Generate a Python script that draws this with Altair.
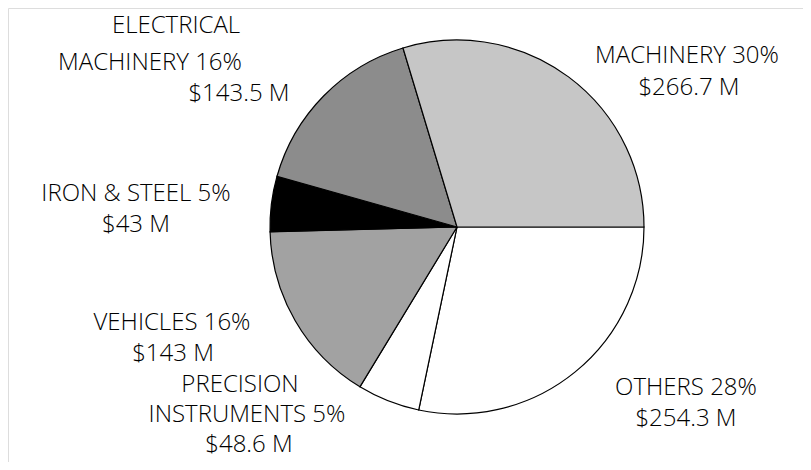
import altair as alt
import pandas as pd
import math

# Data (clockwise from 3 o'clock)
categories = ["OTHERS", "PRECISION INSTRUMENTS", "VEHICLES", "IRON & STEEL",
              "ELECTRICAL MACHINERY", "MACHINERY"]
values = [254.3, 48.6, 143.0, 43.0, 143.5, 266.7]
percents = [28, 5, 16, 5, 16, 30]
fills = ["#ffffff", "#ffffff", "#a2a2a2", "#000000", "#8c8c8c", "#c6c6c6"]

# Label lines per category
label_lines = [
    ["OTHERS 28%", "$254.3 M"],
    ["PRECISION", "INSTRUMENTS 5%", "$48.6 M"],
    ["VEHICLES 16%", "$143 M"],
    ["IRON & STEEL 5%", "$43 M"],
    ["ELECTRICAL", "MACHINERY 16%", "$143.5 M"],
    ["MACHINERY 30%", "$266.7 M"],
]

# Layout (chart pixel positions of each label line: centre x, baseline y)
label_pos = [
    [(678, 387), (678, 418)],
    [(232, 384), (239, 414), (241, 444)],
    [(164, 322), (165, 353)],
    [(128, 193), (128, 224)],
    [(168, 25), (142, 62), (231, 93)],
    [(679, 55), (681, 87)],
]
CX, CY, R = 449, 219, 187

pie_df = pd.DataFrame({
    "category": categories,
    "value": values,
    "order": list(range(len(categories))),
    "fill": fills,
})

rows = []
for lines, poss in zip(label_lines, label_pos):
    for t, (x, y) in zip(lines, poss):
        rows.append({"text": t, "x": x, "y": y})
lab_df = pd.DataFrame(rows)

pie = alt.Chart(pie_df).mark_arc(stroke="#000000", strokeWidth=1.2, radius=R).encode(
    theta=alt.Theta("value:Q", stack=True,
                    scale=alt.Scale(range=[math.pi / 2, math.pi / 2 + 2 * math.pi])),
    order=alt.Order("order:Q"),
    color=alt.Color("fill:N", scale=None),
    x=alt.value(CX),
    y=alt.value(CY),
)

labels = alt.Chart(lab_df).mark_text(
    font="Open Sans", fontSize=24, fontWeight=300, color="#000000",
    align="center", baseline="alphabetic",
).encode(
    x=alt.X("x:Q", scale=None),
    y=alt.Y("y:Q", scale=None),
    text="text:N",
)

chart = alt.layer(pie, labels).properties(
    width=795, height=454, padding=0,
    autosize=alt.AutoSizeParams(type="fit", contains="padding"),
).configure_view(stroke=None).configure(background="#ffffff")

chart.save("out.html", embed_options={"renderer": "svg", "actions": False})
